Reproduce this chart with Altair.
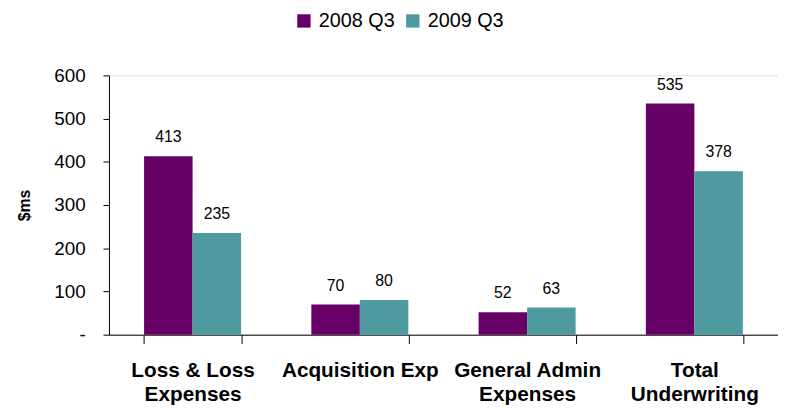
import altair as alt
import pandas as pd

categories = ["Loss & Loss\nExpenses", "Acquisition Exp", "General Admin\nExpenses", "Total\nUnderwriting"]
series = ["2008 Q3", "2009 Q3"]
values_2008 = [413, 70, 52, 535]
values_2009 = [235, 80, 63, 378]
colors = ["#660066", "#4E9A9E"]
y_ticks = [0, 100, 200, 300, 400, 500, 600]

rows = []
for c, a, b in zip(categories, values_2008, values_2009):
    rows.append({"category": c, "series": series[0], "value": a})
    rows.append({"category": c, "series": series[1], "value": b})
df = pd.DataFrame(rows)

FONT = "Liberation Sans"

x_enc = alt.X(
    "category:N",
    sort=categories,
    scale=alt.Scale(paddingInner=0.42, paddingOuter=0.21),
    axis=alt.Axis(
        title=None,
        labelAngle=0,
        labelExpr="split(datum.label, '\\n')",
        labelFont=FONT,
        labelFontSize=21,
        labelFontWeight="bold",
        labelColor="#000000",
        labelLineHeight=25,
        labelPadding=16,
        labelBaseline="top",
        tickBand="extent",
        tickSize=9,
        tickColor="#000000",
        domainColor="#000000",
        labelOverlap=False,
    ),
)
xoff_enc = alt.XOffset("series:N", sort=series, scale=alt.Scale(paddingInner=0, paddingOuter=0))
y_enc = alt.Y(
    "value:Q",
    scale=alt.Scale(domain=[0, 600], nice=False),
    axis=alt.Axis(
        title="$ms",
        values=y_ticks,
        labelExpr="datum.value == 0 ? '-' : datum.label",
        labelFont=FONT,
        labelFontSize=19,
        labelColor="#000000",
        labelPadding=18,
        tickSize=6,
        tickColor="#000000",
        domainColor="#000000",
        grid=False,
        titleFont=FONT,
        titleFontSize=16,
        titleFontWeight="bold",
        titleColor="#000000",
        titleAngle=270,
        titleBaseline="middle",
        titleAlign="center",
        titleX=-85,
        titleY=131,
    ),
)

bars = alt.Chart(df).mark_bar().encode(
    x=x_enc,
    xOffset=xoff_enc,
    y=y_enc,
    color=alt.Color(
        "series:N",
        sort=series,
        scale=alt.Scale(domain=series, range=colors),
        legend=alt.Legend(
            title=None,
            orient="none",
            direction="horizontal",
            legendX=187,
            legendY=-65,
            labelFont=FONT,
            labelFontSize=20,
            labelColor="#000000",
            symbolType="square",
            symbolSize=182,
            symbolStrokeWidth=0,
            symbolOpacity=1,
            columnPadding=8,
            labelOffset=5,
            padding=0,
        ),
    ),
)

labels = alt.Chart(df).mark_text(
    font=FONT, fontSize=16, color="#000000", baseline="alphabetic", dy=-14
).encode(
    x=alt.X("category:N", sort=categories),
    xOffset=alt.XOffset("series:N", sort=series),
    y="value:Q",
    text="value:Q",
)

chart = (
    alt.layer(bars, labels)
    .properties(
        width=676,
        height=262,
        autosize=alt.AutoSizeParams(type="none"),
        padding={"left": 102, "top": 66, "right": 0, "bottom": 72},
    )
    .configure_view(stroke=None)
    .configure(background="#ffffff")
)

chart.save("out.html", embed_options={"renderer": "svg", "actions": False})
